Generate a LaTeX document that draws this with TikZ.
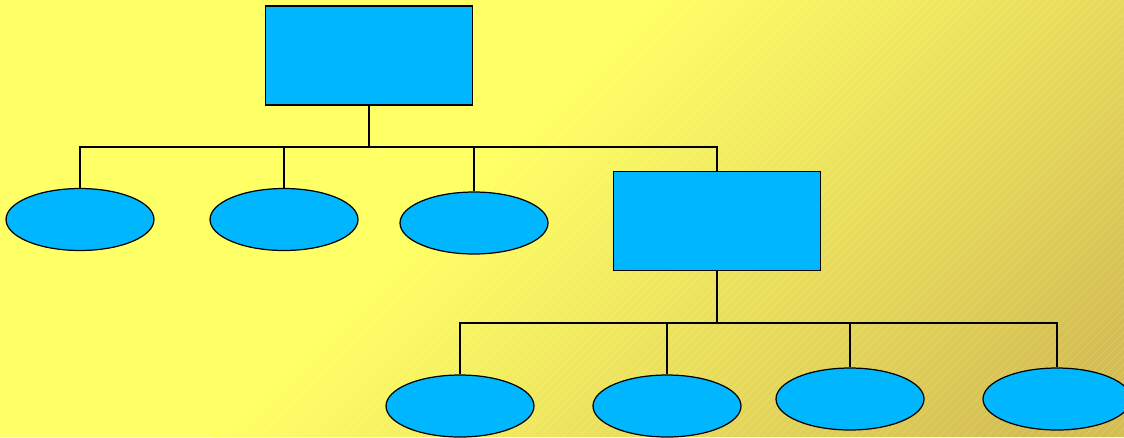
\documentclass[tikz,border=0pt]{standalone}
\usetikzlibrary{shapes.geometric}

\definecolor{bgyellow}{RGB}{255,255,102}
\definecolor{bggold}{RGB}{212,190,84}
\definecolor{boxblue}{RGB}{0,183,255}

\begin{document}
\begin{tikzpicture}[x=0.02cm, y=-0.02cm,
  box/.style={draw, fill=boxblue, line width=0.7pt, minimum width=4.14cm, minimum height=1.98cm, inner sep=0pt},
  leaf/.style={ellipse, draw, fill=boxblue, line width=0.7pt, minimum width=2.96cm, minimum height=1.24cm, inner sep=0pt},
  link/.style={line width=0.6pt},
  stem/.style={line width=1.1pt},
  stripe/.style={white, opacity=0.16, line width=0.4pt}]
  \useasboundingbox (0,0) rectangle (1124,437);

  % background: yellow, going gold in diagonal bands towards the lower right
  \begin{scope}
    \clip (0,0) rectangle (1124,437);
    \fill[bgyellow] (0,0) rectangle (1124,437);
    \foreach \t in {650,660,...,1570} {
      \pgfmathsetmacro\p{min(100,(\t-650)/8)}
      \fill[bggold!\p!bgyellow] (\t,0) -- (\t+11,0) -- (\t+11-437,437) -- (\t-437,437) -- cycle;
    }
    \foreach \t in {680,688,...,1564}
      \draw[stripe] (\t,0) -- (\t-437,437);
  \end{scope}

  % upper level
  \node[box] (root) at (369,55.5) {};
  \node[leaf] (a1) at (80,219.5) {};
  \node[leaf] (a2) at (284,219.5) {};
  \node[leaf] (a3) at (474,223) {};
  \node[box] (mid) at (717,221) {};

  \coordinate (rootbus) at (369,147);
  \draw[stem] (root.south) -- (rootbus);
  \foreach \n in {a1,a2,a3,mid}
    \draw[link] (\n.north) |- (rootbus);

  % lower level
  \node[leaf] (b1) at (460,406) {};
  \node[leaf] (b2) at (667,406) {};
  \node[leaf] (b3) at (850,399) {};
  \node[leaf] (b4) at (1057,399) {};

  \coordinate (midbus) at (717,323);
  \draw[stem] (mid.south) -- (midbus);
  \foreach \n in {b1,b2,b3,b4}
    \draw[link] (\n.north) |- (midbus);
\end{tikzpicture}
\end{document}
